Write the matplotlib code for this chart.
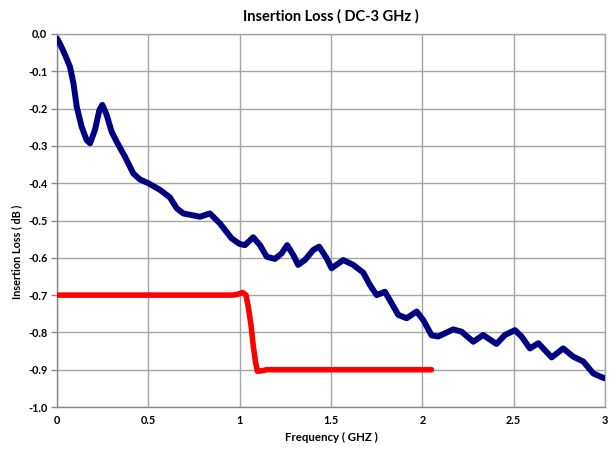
import matplotlib
matplotlib.use("Agg")
import matplotlib.pyplot as plt

# Blue trace: frequency (GHz) and insertion loss (dB)
blue_freq = [0.0, 0.02, 0.044, 0.071, 0.09, 0.108, 0.135, 0.162, 0.181, 0.208, 0.232, 0.248,
             0.272, 0.299, 0.327, 0.372, 0.418, 0.454, 0.50, 0.564, 0.618, 0.655, 0.691,
             0.783, 0.837, 0.892, 0.956, 1.0, 1.029, 1.074, 1.111, 1.148, 1.193, 1.23,
             1.26, 1.293, 1.32, 1.357, 1.403, 1.435, 1.476, 1.503, 1.567, 1.622, 1.677,
             1.713, 1.75, 1.795, 1.832, 1.868, 1.914, 1.969, 2.005, 2.051, 2.087, 2.169,
             2.215, 2.279, 2.333, 2.406, 2.452, 2.507, 2.543, 2.589, 2.635, 2.708, 2.771,
             2.826, 2.881, 2.936, 2.981, 3.0]
blue_loss = [-0.012, -0.03, -0.056, -0.088, -0.132, -0.195, -0.249, -0.284, -0.293, -0.257, -0.204, -0.19,
             -0.217, -0.262, -0.289, -0.329, -0.374, -0.39, -0.40, -0.418, -0.438, -0.467, -0.481,
             -0.49, -0.481, -0.508, -0.548, -0.563, -0.566, -0.545, -0.566, -0.597, -0.603, -0.588,
             -0.566, -0.592, -0.619, -0.606, -0.579, -0.57, -0.601, -0.628, -0.606, -0.619, -0.64,
             -0.673, -0.70, -0.691, -0.722, -0.753, -0.762, -0.744, -0.767, -0.808, -0.811, -0.792,
             -0.798, -0.825, -0.807, -0.831, -0.807, -0.794, -0.811, -0.843, -0.829, -0.867, -0.843,
             -0.865, -0.878, -0.91, -0.92, -0.923]

# Red trace
red_freq = [0.0, 0.5, 0.965, 0.995, 1.015, 1.035, 1.047, 1.062, 1.075, 1.087, 1.097, 1.12, 1.148, 1.5, 2.05]
red_loss = [-0.70, -0.70, -0.70, -0.697, -0.693, -0.70, -0.731, -0.78, -0.838, -0.88, -0.904, -0.903, -0.90, -0.90, -0.90]

x_ticks = [0, 0.5, 1, 1.5, 2, 2.5, 3]
x_tick_labels = ["0", "0.5", "1", "1.5", "2", "2.5", "3"]
y_ticks = [0.0, -0.1, -0.2, -0.3, -0.4, -0.5, -0.6, -0.7, -0.8, -0.9, -1.0]
y_tick_labels = ["0.0", "-0.1", "-0.2", "-0.3", "-0.4", "-0.5", "-0.6", "-0.7", "-0.8", "-0.9", "-1.0"]

plt.rcParams['font.family'] = ['Lato', 'DejaVu Sans']

fig = plt.figure(figsize=(6.09, 4.5), dpi=100)
ax = fig.add_axes([57/609, 1-407/450, (605-57)/609, (407-34)/450])

ax.plot(blue_freq, blue_loss, color="#000080", lw=4.3, solid_joinstyle="round",
        solid_capstyle="round", zorder=3)
ax.plot(red_freq, red_loss, color="#ff0000", lw=4.0, solid_joinstyle="round",
        solid_capstyle="round", zorder=3)

ax.set_xlim(0, 3)
ax.set_ylim(-1.0, 0.0)
ax.set_xticks(x_ticks)
ax.set_xticklabels(x_tick_labels, fontsize=7.8, fontweight="bold")
ax.set_yticks(y_ticks)
ax.set_yticklabels(y_tick_labels, fontsize=7.8, fontweight="bold")
ax.tick_params(axis="x", length=0, pad=6)
ax.tick_params(axis="y", length=4, width=1, color="#888888", pad=3)
ax.grid(True, color="#a6a6a6", lw=1)
ax.set_axisbelow(True)
for s in ax.spines.values():
    s.set_color("#888888")
    s.set_linewidth(1)
ax.spines["top"].set_color("#a6a6a6")
ax.spines["right"].set_color("#a6a6a6")

ax.set_title("Insertion Loss ( DC-3 GHz )", fontsize=10.5, fontweight="bold", pad=10)
ax.set_xlabel("Frequency ( GHZ )", fontsize=8.3, fontweight="bold", labelpad=4)
fig.text(16.5/609, 1-252/450, "Insertion Loss ( dB )", fontsize=7.8, fontweight="bold",
         rotation=90, ha="center", va="center")

fig.savefig("out.png", dpi=100)
